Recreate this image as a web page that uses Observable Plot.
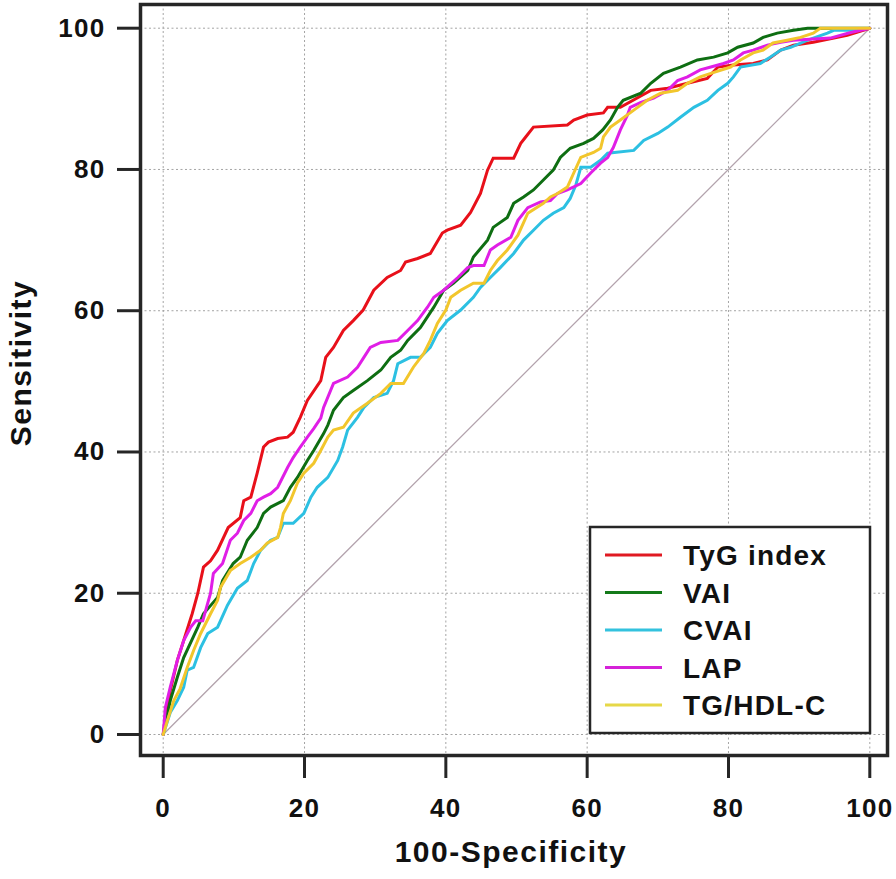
<!DOCTYPE html>
<html>
<head>
<meta charset="utf-8">
<script src="https://cdn.jsdelivr.net/npm/d3@7"></script>
<script src="https://cdn.jsdelivr.net/npm/@observablehq/plot@0.6"></script>
<style>
  html, body { margin: 0; padding: 0; background: #fff; }
  #chart svg { display: block; }
</style>
</head>
<body>
<div id="chart"></div>
<script>
// ---- data (100-Specificity, Sensitivity) ----
const seriesNames = ["TyG index", "VAI", "CVAI", "LAP", "TG/HDL-C"];
const seriesColors = ["#e8101a", "#0e6e12", "#2cc0e2", "#e01ee6", "#f2c62c"];
const legendColors = ["#e01a22", "#147a1a", "#33c2de", "#d522d8", "#e6d848"];

const tyg = [[0,0],[0.3,2.4],[1.0,6.2],[2.0,10.5],[2.9,13.3],[4.1,17.1],[4.9,20.0],[5.7,23.7],[6.7,24.6],[7.7,26.1],[9.2,29.3],[10.9,30.7],[11.4,33.1],[12.4,33.6],[13.3,37.0],[14.2,40.7],[14.9,41.4],[16.2,41.9],[17.6,42.1],[18.4,42.8],[19.4,44.9],[20.4,47.3],[22.3,50.1],[23.0,53.4],[24.1,54.8],[25.5,57.2],[26.9,58.6],[28.3,60.1],[29.8,62.9],[31.7,64.7],[33.6,65.7],[34.3,66.9],[36.0,67.4],[37.8,68.1],[39.5,71.0],[40.2,71.4],[42.1,72.1],[43.5,73.9],[44.9,76.6],[45.9,79.9],[46.7,81.6],[49.6,81.6],[50.6,83.7],[51.3,84.6],[52.4,86.0],[57.2,86.3],[58.1,87.0],[60.0,87.7],[62.3,88.0],[62.9,88.8],[64.7,88.8],[69.0,91.2],[71.4,91.5],[74.2,92.2],[77.0,92.9],[78.5,94.5],[80.7,94.8],[83.5,95.0],[85.5,95.5],[87.4,96.9],[89.2,97.6],[92.0,98.0],[96.8,99.0],[100,100]];
const vai = [[0,0],[1.0,4.8],[2.0,8.1],[2.9,10.9],[4.9,15.2],[5.7,17.1],[7.0,18.6],[7.7,19.4],[8.4,21.8],[9.9,24.2],[10.9,25.1],[11.9,27.5],[13.3,29.3],[14.2,31.3],[15.2,32.2],[17.0,33.1],[18.0,35.0],[19.0,36.4],[20.4,38.8],[21.3,40.2],[22.7,42.6],[23.3,43.8],[24.1,45.9],[25.5,47.7],[26.9,48.7],[28.9,50.1],[30.8,51.6],[32.2,53.4],[33.6,54.4],[34.6,55.8],[36.4,57.6],[38.3,60.5],[39.7,62.9],[41.1,63.9],[43.1,65.7],[43.9,67.6],[45.9,70.0],[46.7,71.8],[48.7,73.2],[49.6,75.2],[51.0,76.1],[52.4,77.1],[53.8,78.5],[55.2,79.9],[56.2,81.7],[57.6,83.0],[59.5,83.7],[60.9,84.4],[62.2,85.6],[63.3,87.0],[64.3,88.8],[65.1,89.8],[67.6,90.8],[69.0,92.2],[70.8,93.6],[73.2,94.5],[75.6,95.5],[77.9,95.9],[79.9,96.5],[81.3,97.3],[83.5,97.9],[84.9,98.7],[86.9,99.3],[89.2,99.7],[91.2,100],[100,100]];
const cvai = [[0,0],[1.0,3.1],[2.0,4.8],[2.9,6.7],[3.4,9.1],[4.3,9.5],[5.3,12.3],[6.3,14.3],[7.7,15.2],[9.1,18.3],[10.5,20.7],[11.9,21.8],[12.8,24.2],[13.8,26.1],[15.2,27.5],[16.2,27.9],[17.0,29.9],[18.4,29.9],[19.9,31.3],[20.9,33.6],[21.8,35.0],[23.3,36.4],[24.7,38.8],[25.4,40.7],[26.1,43.1],[27.5,44.9],[28.4,46.3],[29.8,47.7],[31.7,48.3],[32.6,50.1],[33.2,52.5],[35.0,53.4],[36.4,53.4],[37.8,54.8],[38.8,56.8],[40.2,58.6],[42.1,60.1],[43.9,61.9],[44.9,63.3],[46.3,64.7],[47.7,66.1],[49.6,68.1],[51.0,70.0],[52.4,71.4],[53.8,72.8],[55.2,73.8],[56.7,74.6],[57.6,75.9],[58.4,77.8],[59.1,80.3],[60.5,80.3],[61.9,81.3],[62.9,82.3],[66.6,82.7],[68.0,84.1],[70.0,85.1],[71.4,86.0],[73.2,87.4],[75.1,88.8],[77.0,89.8],[78.5,91.2],[79.9,92.2],[80.7,93.1],[81.7,94.5],[84.5,95.0],[85.9,95.9],[87.4,96.9],[88.8,97.3],[91.2,98.3],[94.0,99.3],[94.9,99.7],[97.7,99.7],[100,100]];
const lap = [[0,0],[0.3,3.8],[1.0,6.7],[2.0,10.5],[2.9,13.3],[3.9,15.2],[4.6,16.1],[5.6,16.1],[6.3,18.6],[6.7,20.0],[7.1,22.8],[8.4,24.2],[9.5,27.5],[10.5,28.5],[11.4,30.3],[12.4,31.3],[13.3,33.1],[14.2,33.6],[15.2,34.1],[16.2,35.0],[17.6,37.8],[18.4,39.2],[19.4,40.7],[20.4,42.1],[21.3,43.3],[22.3,44.8],[22.7,46.3],[24.1,49.7],[26.1,50.6],[27.5,52.0],[28.4,53.4],[29.3,54.8],[30.8,55.5],[33.2,55.8],[34.6,57.2],[36.0,58.6],[37.4,60.5],[38.3,61.9],[39.7,62.9],[41.7,64.7],[43.1,66.1],[43.9,66.4],[45.4,66.4],[46.3,68.6],[47.3,69.3],[49.2,70.4],[50.2,72.8],[51.6,74.6],[53.4,75.4],[54.8,75.6],[55.8,76.6],[57.2,77.1],[59.1,78.0],[60.5,79.5],[61.9,80.9],[62.9,81.7],[63.7,83.1],[64.7,85.6],[65.7,87.7],[66.1,88.8],[67.6,89.5],[69.4,90.1],[71.4,91.2],[72.8,92.6],[74.2,93.1],[76.0,94.1],[77.5,94.5],[79.3,95.0],[80.7,95.5],[82.1,96.5],[83.5,96.9],[85.5,97.6],[87.4,98.0],[89.2,98.3],[94.4,98.6],[97.3,99.4],[100,100]];
const tghdl = [[0,0],[0.6,2.0],[1.5,4.8],[2.4,6.5],[3.4,9.5],[4.3,11.9],[5.3,14.3],[6.7,17.1],[7.7,19.0],[8.1,20.8],[9.5,23.2],[10.9,24.2],[12.4,25.1],[13.8,26.1],[14.7,27.1],[16.2,27.9],[16.6,29.3],[17.0,31.3],[18.0,33.1],[19.0,35.6],[19.9,37.0],[21.3,38.4],[22.3,40.2],[23.3,42.1],[24.1,43.1],[25.5,43.5],[26.9,45.5],[28.9,46.9],[30.8,48.3],[32.2,49.7],[34.0,49.7],[35.4,52.0],[36.9,54.0],[37.8,55.8],[38.8,58.2],[40.0,60.1],[40.7,61.9],[42.1,62.9],[43.9,63.9],[45.4,63.9],[46.3,65.7],[47.3,67.1],[48.7,68.6],[50.2,70.7],[51.6,73.8],[53.8,75.2],[54.8,76.1],[55.8,76.6],[57.2,77.5],[58.1,79.5],[59.1,81.7],[60.9,82.4],[61.9,83.0],[62.3,84.6],[63.3,86.0],[64.7,87.0],[66.6,88.4],[68.5,89.8],[70.4,90.8],[72.8,91.2],[74.2,92.2],[76.0,93.1],[77.5,93.6],[80.3,94.5],[81.7,95.5],[83.5,96.5],[84.9,96.9],[86.3,97.9],[88.3,98.3],[90.2,98.7],[92.0,99.3],[93.0,100],[100,100]];

const referenceLine = [[0,0],[100,100]];
const xTicks = [0, 20, 40, 60, 80, 100];
const yTicks = [0, 20, 40, 60, 80, 100];
const xTitle = "100-Specificity";
const yTitle = "Sensitivity";

// ---- build table ----
const seriesData = [tyg, vai, cvai, lap, tghdl];
const rows = seriesData.flatMap((pts, i) =>
  pts.map(([x, y]) => ({series: seriesNames[i], x, y})));

const FONT = "'Liberation Sans', Arial, Helvetica, sans-serif";

const chart = Plot.plot({
  width: 896,
  height: 879,
  marginLeft: 140,
  marginRight: 9,
  marginTop: 4,
  marginBottom: 124,
  style: {fontFamily: FONT, fontWeight: "bold", background: "#fff", color: "#111"},
  x: {domain: [0, 100], insetLeft: 22.7, insetRight: 17.7},
  y: {domain: [0, 100], insetTop: 23.7, insetBottom: 21},
  color: {domain: seriesNames, range: seriesColors},
  marks: [
    Plot.gridX(xTicks, {stroke: "#9a9a9a", strokeOpacity: 0.9, strokeWidth: 1, strokeDasharray: "2,2.5"}),
    Plot.gridY(yTicks, {stroke: "#9a9a9a", strokeOpacity: 0.9, strokeWidth: 1, strokeDasharray: "2,2.5"}),
    Plot.line(referenceLine, {x: d => d[0], y: d => d[1], stroke: "#b3a3ad", strokeWidth: 1.3}),
    Plot.line(rows, {x: "x", y: "y", z: "series", stroke: "series", strokeWidth: 3, strokeLinejoin: "miter", strokeMiterlimit: 2}),
    Plot.frame({stroke: "#262626", strokeWidth: 3.5}),
    Plot.axisX(xTicks, {tickSize: 23, tickPadding: 20, strokeWidth: 3, stroke: "#262626", fontSize: 26, fontWeight: "bold", label: null}),
    Plot.axisY(yTicks, {tickSize: 23, tickPadding: 12, strokeWidth: 3, stroke: "#262626", fontSize: 26, fontWeight: "bold", label: null})
  ]
});

document.getElementById("chart").append(chart);

const svg = d3.select(chart);
svg.selectAll("[aria-label='x-axis tick label'] text, [aria-label='y-axis tick label'] text")
  .attr("letter-spacing", "1.3px").attr("fill", "#111");
svg.selectAll("[aria-label='x-axis tick label'], [aria-label='y-axis tick label']")
  .attr("font-size", 26).attr("font-weight", "bold");

// axis titles
svg.append("text")
  .attr("x", 511).attr("y", 862)
  .attr("text-anchor", "middle")
  .attr("font-family", FONT).attr("font-weight", "bold").attr("font-size", 30)
  .attr("letter-spacing", "1.5px").attr("fill", "#111")
  .text(xTitle);
svg.append("text")
  .attr("transform", "translate(31,363) rotate(-90)")
  .attr("text-anchor", "middle")
  .attr("font-family", FONT).attr("font-weight", "bold").attr("font-size", 30)
  .attr("letter-spacing", "1.5px").attr("fill", "#111")
  .text(yTitle);

// legend
const lg = svg.append("g").attr("text-anchor", "start");
lg.append("rect")
  .attr("x", 590).attr("y", 527).attr("width", 280).attr("height", 206)
  .attr("fill", "#fff").attr("stroke", "#262626").attr("stroke-width", 2.5);
seriesNames.forEach((name, i) => {
  const cy = 555 + i * 37.5;
  lg.append("line")
    .attr("x1", 605).attr("x2", 662).attr("y1", cy).attr("y2", cy)
    .attr("stroke", legendColors[i]).attr("stroke-width", 3);
  lg.append("text")
    .attr("x", 683).attr("y", cy + 10)
    .attr("text-anchor", "start")
    .attr("font-family", FONT).attr("font-weight", "bold").attr("font-size", 28)
    .attr("letter-spacing", "1.2px").attr("fill", "#111")
    .text(name);
});
</script>
</body>
</html>
